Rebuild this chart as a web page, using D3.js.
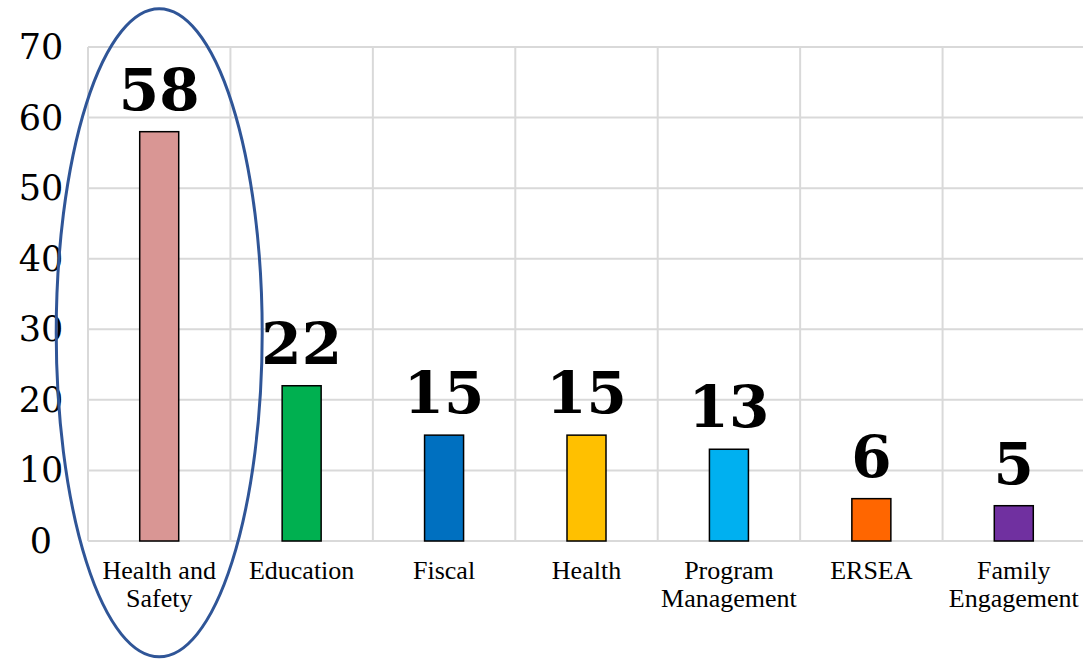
<!DOCTYPE html>
<html>
<head>
<meta charset="utf-8">
<script src="https://cdn.jsdelivr.net/npm/d3@7"></script>
<style>
  body { margin: 0; background: #fff; }
  svg { display: block; }
</style>
</head>
<body>
<div class="graphic"></div>
<script>
// chart data
var categories = [["Health and", "Safety"], ["Education"], ["Fiscal"], ["Health"], ["Program", "Management"], ["ERSEA"], ["Family", "Engagement"]]
var counts = [58, 22, 15, 15, 13, 6, 5]
var barColors = ["#D99694", "#00B050", "#0070C0", "#FFC000", "#00B0F0", "#FF6600", "#7030A0"]
var yTicks = [0, 10, 20, 30, 40, 50, 60, 70]
var titleText = "Finding Category"

var width = 1083
var height = 659
var margin = { top: 47, right: -2, bottom: 118, left: 88 }

var svg = d3.select('.graphic').append('svg')
    .attr('width', width)
    .attr('height', height)

var keys = categories.map(function(c) { return c.join(' ') })

var x = d3.scaleBand()
    .domain(keys)
    .range([margin.left, width - margin.right])
    .paddingInner(0)
    .paddingOuter(0)

var y = d3.scaleLinear()
    .domain([0, 70])
    .range([height - margin.bottom, margin.top])

var barW = 39

// title (cut off at top of the frame, as in the source slide)
svg.append('text')
    .attr('x', 912)
    .attr('y', -12)
    .attr('text-anchor', 'end')
    .attr('font-family', 'DejaVu Serif')
    .attr('font-weight', 'bold')
    .attr('font-size', 56)
    .attr('fill', '#000')
    .text(titleText)

// gridlines
svg.append('g').selectAll('line.h')
    .data(yTicks)
    .enter().append('line')
    .attr('x1', margin.left)
    .attr('x2', width)
    .attr('y1', function(d) { return y(d) })
    .attr('y2', function(d) { return y(d) })
    .attr('stroke', '#d9d9d9')
    .attr('stroke-width', 2)

var bounds = keys.map(function(k) { return x(k) }).concat([x(keys[keys.length - 1]) + x.bandwidth()])
svg.append('g').selectAll('line.v')
    .data(bounds)
    .enter().append('line')
    .attr('x1', function(d) { return d })
    .attr('x2', function(d) { return d })
    .attr('y1', y(70))
    .attr('y2', y(0))
    .attr('stroke', '#d9d9d9')
    .attr('stroke-width', 2)

// y axis labels
svg.append('g').selectAll('text')
    .data(yTicks)
    .enter().append('text')
    .attr('x', 41)
    .attr('y', function(d) { return y(d) + 12 })
    .attr('text-anchor', 'middle')
    .attr('font-family', 'DejaVu Serif')
    .attr('font-size', 35)
    .attr('fill', '#000')
    .text(function(d) { return d })

// bars
svg.append('g').selectAll('rect')
    .data(counts)
    .enter().append('rect')
    .attr('x', function(d, i) { return x(keys[i]) + x.bandwidth() / 2 - barW / 2 })
    .attr('y', function(d) { return y(d) })
    .attr('width', barW)
    .attr('height', function(d) { return y(0) - y(d) })
    .attr('fill', function(d, i) { return barColors[i] })
    .attr('stroke', '#000')
    .attr('stroke-width', 1.5)

// value labels
svg.append('g').selectAll('text')
    .data(counts)
    .enter().append('text')
    .attr('x', function(d, i) { return x(keys[i]) + x.bandwidth() / 2 })
    .attr('y', function(d) { return y(d) - 22 })
    .attr('text-anchor', 'middle')
    .attr('font-family', 'DejaVu Serif')
    .attr('font-weight', 'bold')
    .attr('font-size', 58)
    .attr('fill', '#000')
    .text(function(d) { return d })

// category labels
var catG = svg.append('g').selectAll('text')
    .data(categories)
    .enter().append('text')
    .attr('text-anchor', 'middle')
    .attr('font-family', 'Liberation Serif')
    .attr('font-size', 26)
    .attr('fill', '#000')

catG.selectAll('tspan')
    .data(function(d, i) { return d.map(function(line) { return { line: line, i: i } }) })
    .enter().append('tspan')
    .attr('x', function(d) { return x(keys[d.i]) + x.bandwidth() / 2 })
    .attr('y', function(d, j) { return y(0) + 38 + j * 28 })
    .text(function(d) { return d.line })

// highlight ellipse around first category
svg.append('ellipse')
    .attr('cx', x(keys[0]) + x.bandwidth() / 2)
    .attr('cy', y(29.5))
    .attr('rx', 103)
    .attr('ry', 324)
    .attr('fill', 'none')
    .attr('stroke', '#2F5597')
    .attr('stroke-width', 3)
</script>
</body>
</html>
